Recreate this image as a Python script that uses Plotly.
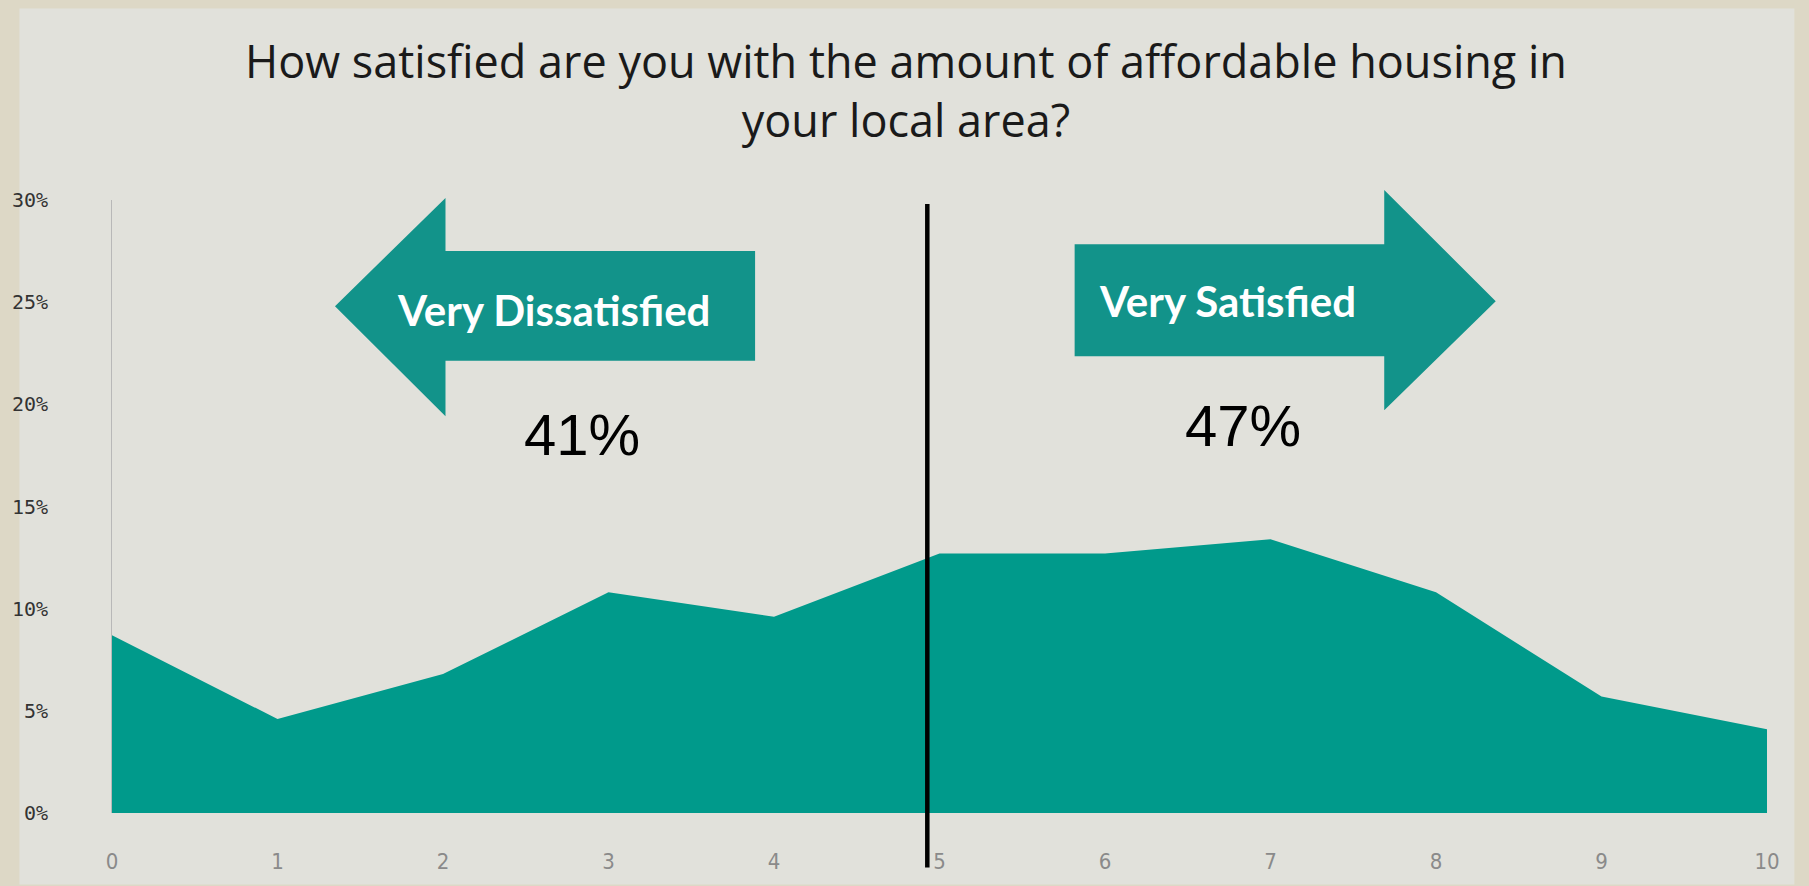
import plotly.graph_objects as go

# ratings 0..10 and share of respondents (%)
ratings = [0, 1, 2, 3, 4, 5, 6, 7, 8, 9, 10]
shares = [8.7, 4.6, 6.8, 10.8, 9.6, 12.7, 12.7, 13.4, 10.8, 5.7, 4.1]
y_ticks = [0, 5, 10, 15, 20, 25, 30]
y_labels = ["0%", "5%", "10%", "15%", "20%", "25%", "30%"]
title_text = "How satisfied are you with the amount of affordable housing in<br>your local area?"
left_label, left_pct = "Very Dissatisfied", "41%"
right_label, right_pct = "Very Satisfied", "47%"

W, H = 1809, 886
ML, MR, MT, MB = 105, 41.5, 200, 68
pw, ph = W - ML - MR, H - MT - MB


def px(x):  # pixel -> paper
    return (x - ML) / pw


def py(y):
    return (H - MB - y) / ph


teal = "#009a8b"
arrow_teal = "#12938a"

fig = go.Figure()

fig.add_trace(go.Scatter(
    x=ratings, y=shares,
    mode="lines", fill="tozeroy",
    line=dict(width=0, color=teal),
    fillcolor=teal,
    hoverinfo="x+y",
    showlegend=False
))

shapes = []
# beige frame + inner panel
shapes.append(dict(type="rect", xref="paper", yref="paper",
                   x0=px(12), x1=px(1795), y0=py(890), y1=py(7),
                   fillcolor="#e1e1db", line=dict(width=0), layer="below"))

# left arrow
la = [(329, 307), (440, 198), (440, 251.5), (751, 251.5), (751, 362), (440, 362), (440, 418)]
path = "M " + " L ".join(f"{px(a)},{py(b)}" for a, b in la) + " Z"
shapes.append(dict(type="path", xref="paper", yref="paper", path=path,
                   fillcolor=arrow_teal, line=dict(width=0)))

# right arrow
ra = [(1072, 244.6), (1383, 244.6), (1383, 190), (1495, 302), (1383, 412), (1383, 357.6), (1072, 357.6)]
path = "M " + " L ".join(f"{px(a)},{py(b)}" for a, b in ra) + " Z"
shapes.append(dict(type="path", xref="paper", yref="paper", path=path,
                   fillcolor=arrow_teal, line=dict(width=0)))

# divider at midpoint
shapes.append(dict(type="line", xref="paper", yref="paper",
                   x0=px(924), x1=px(924), y0=py(873), y1=py(204),
                   line=dict(color="black", width=4.5)))


def note(text, x, y, family, size, color):
    return dict(text=text, xref="paper", yref="paper", x=px(x), y=py(y),
                xanchor="center", yanchor="middle", showarrow=False,
                font=dict(family=family, size=size, color=color))


annotations = [
    note(title_text, 903, 89, "Open Sans", 45, "#1a1a1a"),
    note(f"<b>{left_label}</b>", 548, 311, "Lato", 42, "white"),
    note(f"<b>{right_label}</b>", 1226, 302, "Lato", 42, "white"),
    note(left_pct, 577, 436, "Liberation Sans", 58, "black"),
    note(right_pct, 1241, 427, "Liberation Sans", 58, "black"),
]

fig.update_layout(
    width=W, height=H,
    margin=dict(l=ML, r=MR, t=MT, b=MB),
    paper_bgcolor="#ddd8c6",
    plot_bgcolor="rgba(0,0,0,0)",
    shapes=shapes,
    annotations=annotations,
    xaxis=dict(range=[0, 10], tickvals=ratings, showgrid=False, zeroline=False,
               showline=False, ticks="", ticklabelstandoff=33,
               tickfont=dict(family="DejaVu Sans Condensed", size=22, color="#8a8a8a")),
    yaxis=dict(range=[0, 30], tickvals=y_ticks, ticktext=y_labels, showgrid=False,
               zeroline=False, showline=True, linecolor="#b8b8b8", linewidth=1,
               ticks="", ticklabelstandoff=59,
               tickfont=dict(family="DejaVu Sans Mono", size=20, color="#333333")),
)

fig.write_html("out.html", config={"displayModeBar": False},
               post_script="document.body.style.margin='0';")
